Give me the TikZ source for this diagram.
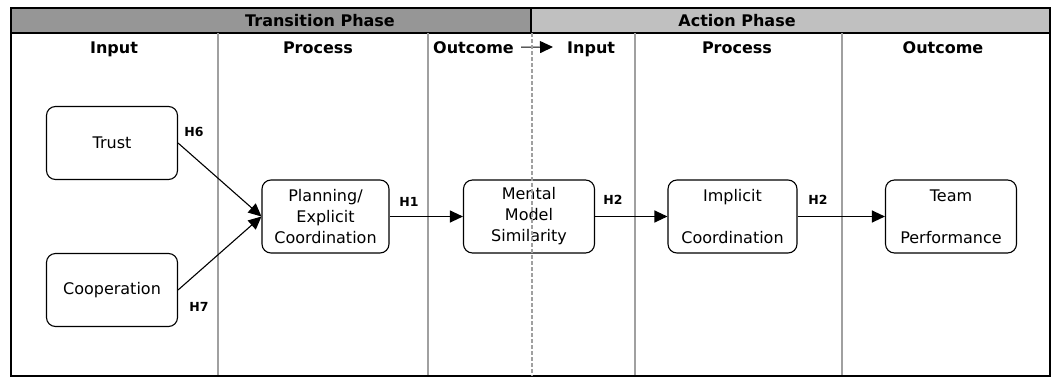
\documentclass[tikz,border=0pt]{standalone}
\usepackage{fontspec}
\setmainfont{DejaVu Sans}
\usetikzlibrary{arrows.meta}
\definecolor{transgray}{HTML}{969696}
\definecolor{actgray}{HTML}{C0C0C0}
\definecolor{linegray}{HTML}{A0A0A0}
\begin{document}
\begin{tikzpicture}[x=1pt,y=-1pt,
  box/.style={draw,rounded corners=9pt,line width=1.1pt,fill=white,minimum width=131pt,minimum height=73pt,align=center,inner sep=2pt,font=\fontsize{16}{21}\selectfont},
  head/.style={inner sep=0pt,font=\bfseries\fontsize{16}{19}\selectfont},
  hyp/.style={font=\bfseries\fontsize{12.5}{14}\selectfont},
  arr/.style={-{Triangle[length=13pt,width=12pt]},line width=1.1pt},
  divider/.style={linegray,line width=1.2pt}]
\useasboundingbox (0,0) rectangle (1055,381);

\fill[transgray] (11,8) rectangle (531,33);
\fill[actgray] (531,8) rectangle (1050,33);
\draw[line width=1.2pt] (11,33) -- (1050,33);
\draw[line width=1.2pt] (531,8) -- (531,33);
\draw[divider] (218,33) -- (218,376);
\draw[divider] (428,33) -- (428,376);
\draw[divider] (635,33) -- (635,376);
\draw[divider] (842,33) -- (842,376);
\draw[line width=1.5pt] (11,8) rectangle (1050,376);

\node[head] (trans) at (320,21) {Transition Phase};
\node[head] (act) at (737,21) {Action Phase};

\node[head,anchor=base] (in1) at (114,53) {Input};
\node[head,anchor=base] (pr1) at (318,53) {Process};
\node[head,anchor=base west] (outc) at (433,53) {Outcome};
\node[head,anchor=base west] (in2) at (567,53) {Input};
\node[head,anchor=base] (pr2) at (737,53) {Process};
\node[head,anchor=base] (out2) at (943,53) {Outcome};
\coordinate (phasetip) at (553,47);
\draw[arr] ([xshift=7pt]outc.east) -- (phasetip);

\node[box] (trust) at (112,143) {Trust};
\node[box] (coop) [below of=trust,node distance=147pt] {Cooperation};
\node[box,minimum width=127pt] (plan) at (325.5,216.5) {Planning/\\Explicit\\Coordination};
\node[box] (mms) [right of=plan,node distance=203.5pt] {Mental\\Model\\Similarity};
\node[box,minimum width=129pt] (impl) [right of=mms,node distance=203.5pt] {Implicit\\~\\Coordination};
\node[box] (team) [right of=impl,node distance=218.5pt] {Team\\~\\Performance};

\draw[arr] (trust.east) -- (plan.west);
\draw[arr] (coop.east) -- (plan.west);
\draw[arr] (plan.east) -- (mms.west);
\draw[arr] (mms.east) -- (impl.west);
\draw[arr] (impl.east) -- (team.west);

\node[hyp] (h6) at (194,132) {H6};
\node[hyp] (h7) at (199,307) {H7};
\node[hyp] (h1) at (409,202) {H1};
\node[hyp] (h2a) at (613,200) {H2};
\node[hyp] (h2b) at (818,200) {H2};

\draw[linegray,line width=2pt,dash pattern=on 4pt off 2pt] (531.5,33) -- (531.5,376);
\end{tikzpicture}
\end{document}
